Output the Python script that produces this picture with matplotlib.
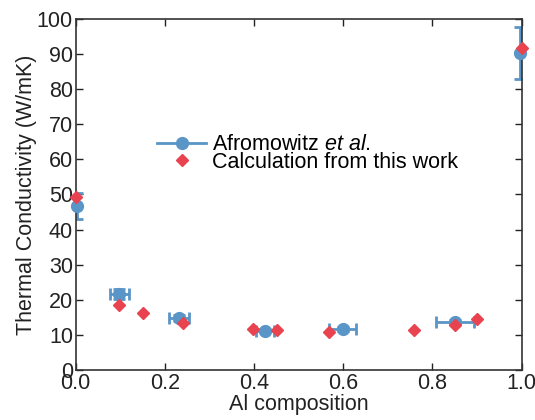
import matplotlib.pyplot as plt

plt.rcParams['font.family'] = ['Liberation Sans', 'DejaVu Sans']
plt.rcParams['mathtext.fontset'] = 'custom'
plt.rcParams['mathtext.rm'] = 'Liberation Sans'
plt.rcParams['mathtext.it'] = 'Liberation Sans:italic'

# Afromowitz et al. (measured)
meas_x = [0.003, 0.098, 0.232, 0.424, 0.599, 0.85, 0.997]
meas_y = [46.8, 21.6, 14.9, 11.2, 11.7, 13.7, 90.3]
meas_xerr = [0.0, 0.022, 0.022, 0.02, 0.03, 0.043, 0.0]
meas_yerr = [3.7, 1.5, 0.8, 0.5, 0.5, 0.5, 7.5]

# calculation from this work
calc_x = [0.0, 0.098, 0.150, 0.240, 0.398, 0.451, 0.569, 0.758, 0.85, 0.90, 1.0]
calc_y = [49.4, 18.5, 16.1, 13.5, 11.7, 11.4, 10.7, 11.4, 12.8, 14.5, 91.7]

blue = '#5a95c8'
red = '#e8434f'
fs = 15.5

fig = plt.figure(figsize=(5.35, 4.2), dpi=100)
ax = fig.add_axes([0.1415, 0.119, 0.8335, 0.836])

ax.errorbar(meas_x, meas_y, xerr=meas_xerr, yerr=meas_yerr, fmt='none',
            ecolor=blue, elinewidth=2, capsize=4, capthick=2, zorder=2)
ax.plot(meas_x, meas_y, 'o', color=blue, markersize=8.5, clip_on=False, zorder=3)
ax.plot(calc_x, calc_y, 'D', color=red, markersize=6.5, clip_on=False, zorder=4)

# legend handles
h1, = ax.plot([], [], '-o', color=blue, lw=2, markersize=8.5)
h2, = ax.plot([], [], 'D', color=red, markersize=6)
ax.legend([h1, h2], [r'Afromowitz $\it{et\ al.}$', 'Calculation from this work'],
          loc='upper left', bbox_to_anchor=(0.182, 0.672), frameon=False,
          fontsize=fs, handlelength=2.3, handletextpad=0.25, labelspacing=-0.15,
          borderpad=0, borderaxespad=0)

ax.set_xlim(0, 1)
ax.set_ylim(0, 100)
ax.set_xticks([0, 0.2, 0.4, 0.6, 0.8, 1.0])
ax.set_yticks(range(0, 101, 10))
ax.tick_params(direction='in', top=True, right=True, labelsize=fs,
               colors='#222222', length=5, width=1, pad=2)
for s in ax.spines.values():
    s.set_color('#333333')
    s.set_linewidth(1.2)

ax.set_xlabel('Al composition', fontsize=fs, color='#222222', labelpad=0)
ax.set_ylabel('Thermal Conductivity (W/mK)', fontsize=fs, color='#222222', labelpad=0)

fig.savefig('out.png', dpi=100)
